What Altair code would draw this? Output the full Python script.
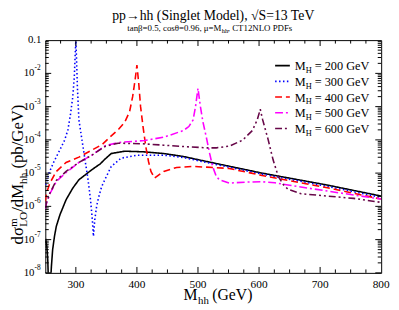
import altair as alt
import pandas as pd

SERIF = "Liberation Serif"

# ---- data (M_hh in GeV, log10 of dsigma/dM_hh in pb/GeV) ----
M200 = [250, 251, 252.5, 254, 255.5, 257, 258.5, 260, 262, 265, 268, 274, 284, 295, 305, 326, 340,
        347.6, 358, 380, 412, 444, 476, 514, 605, 712, 800]
L200 = [-7.1, -7.05, -7.2, -7.6, -8.5, -9.0, -8.3, -7.8, -7.3, -6.9, -6.6, -6.25, -5.8, -5.45, -5.2,
        -4.9, -4.72, -4.58, -4.41, -4.34, -4.36, -4.41, -4.5, -4.65, -5.0, -5.36, -5.69]

M300 = [250, 252, 256, 263, 273.6, 281.6, 287, 291.3, 295, 297.5, 299, 300, 301, 302.5, 305, 310, 315,
        320, 324, 327, 328.8, 331, 334, 337, 342, 347.6, 358, 374, 401, 444, 476, 514, 605, 712, 800]
L300 = [-5.35, -5.29, -5.0, -4.7, -4.31, -4.01, -3.7, -3.22, -2.7, -2.1, -1.4, -1.03, -1.5, -2.4, -3.4,
        -4.0, -4.6, -5.2, -5.8, -6.4, -6.9, -6.4, -6.0, -5.75, -5.42, -5.19, -4.8, -4.55, -4.46, -4.46,
        -4.53, -4.68, -5.03, -5.4, -5.73]

M400 = [250, 252, 257.5, 268, 284, 305, 327, 343, 358, 370, 380, 388, 393, 397, 400, 403, 406, 410,
        414.5, 419, 423, 429, 436, 444, 465, 492, 514, 551, 605, 712, 800]
L400 = [-5.85, -5.6, -5.3, -4.95, -4.68, -4.52, -4.3, -4.14, -3.88, -3.68, -3.47, -3.15, -2.7, -2.2,
        -1.75, -2.3, -3.0, -3.6, -4.2, -4.65, -4.95, -5.15, -5.05, -4.95, -4.83, -4.8, -4.82, -4.86,
        -5.07, -5.44, -5.78]

M500 = [250, 252, 257.5, 268, 284, 305, 327, 347.6, 369, 412, 444, 476, 485, 492, 496, 500, 504, 508,
        514, 519, 524, 530, 535, 551, 578, 605, 626, 642, 712, 800]
L500 = [-6.08, -5.9, -5.62, -5.25, -4.98, -4.68, -4.45, -4.18, -4.08, -4.02, -3.92, -3.72, -3.6, -3.4,
        -3.0, -2.45, -3.0, -3.45, -3.95, -4.4, -4.8, -5.1, -5.2, -5.3, -5.27, -5.26, -5.29, -5.34,
        -5.54, -5.78]

M600 = [250, 252, 257.5, 268, 284, 305, 327, 347.6, 369, 412, 444, 476, 514, 530, 551, 573, 589, 597,
        602, 606, 615, 623, 631.5, 640, 647.6, 669, 712, 755, 800]
L600 = [-6.05, -5.88, -5.6, -5.22, -4.95, -4.68, -4.45, -4.2, -4.1, -4.12, -4.16, -4.2, -4.24, -4.24,
        -4.19, -4.01, -3.72, -3.4, -3.08, -3.4, -4.0, -4.6, -5.1, -5.35, -5.49, -5.62, -5.69, -5.76,
        -5.88]

SERIES = ["200", "300", "400", "500", "600"]
COLORS = ["#000000", "#0000ff", "#ff0000", "#ff00ff", "#670748"]
DASHES = [[1, 0], [1.5, 2.5], [7, 4], [8, 3, 2, 3], [7, 3, 2, 3, 2, 3]]

X_LABELS = [300, 400, 500, 600, 700, 800]
Y_EXPONENTS = [-8, -7, -6, -5, -4, -3, -2]

W, H = 342, 237

frames = []
for s, ms, ls in zip(SERIES, [M200, M300, M400, M500, M600], [L200, L300, L400, L500, L600]):
    frames.append(pd.DataFrame({"M": ms, "lg": ls, "s": s}))
df = pd.concat(frames, ignore_index=True)
df["v"] = 10.0 ** df["lg"]

xscale = alt.Scale(domain=[250, 800], nice=False, zero=False)
yscale = alt.Scale(type="log", domain=[1e-8, 0.1], nice=False)

lines = alt.Chart(df).mark_line(clip=True, strokeWidth=1.6).encode(
    x=alt.X("M:Q", scale=xscale, axis=None),
    y=alt.Y("v:Q", scale=yscale, axis=None),
    color=alt.Color("s:N", scale=alt.Scale(domain=SERIES, range=COLORS), legend=None),
    strokeDash=alt.StrokeDash("s:N", scale=alt.Scale(domain=SERIES, range=DASHES), legend=None),
    detail="s:N",
)

# ---- inward ticks ----
xmaj = pd.DataFrame({"M": [300, 400, 500, 600, 700]})
xmin = pd.DataFrame({"M": [m for m in range(275, 800, 25) if m % 100 != 0]})
ymaj = pd.DataFrame({"v": [10.0 ** e for e in Y_EXPONENTS]})
ymin = pd.DataFrame({"v": [k * 10.0 ** e for e in Y_EXPONENTS for k in range(2, 10)]})


def xticks(data, length):
    out = []
    for y0, y1 in [(H, H - length), (0, length)]:
        out.append(alt.Chart(data).mark_rule(color="black", strokeWidth=1).encode(
            x=alt.X("M:Q", scale=xscale, axis=None), y=alt.value(y0), y2=alt.value(y1)))
    return out


def yticks(data, length):
    out = []
    for x0, x1 in [(0, length), (W, W - length)]:
        out.append(alt.Chart(data).mark_rule(color="black", strokeWidth=1).encode(
            y=alt.Y("v:Q", scale=yscale, axis=None), x=alt.value(x0), x2=alt.value(x1)))
    return out


tick_layers = xticks(xmaj, 6) + xticks(xmin, 3.5) + yticks(ymaj, 6) + yticks(ymin, 3.5)

# ---- x tick labels ----
xlab = alt.Chart(pd.DataFrame({"M": X_LABELS, "t": [str(v) for v in X_LABELS]})).mark_text(
    font=SERIF, fontSize=11.5, align="center", baseline="top", color="black").encode(
    x=alt.X("M:Q", scale=xscale, axis=None), y=alt.value(H + 6), text="t:N")

# ---- y tick labels ----
ylab = pd.DataFrame({"v": [10.0 ** e for e in Y_EXPONENTS], "e": [str(e) for e in Y_EXPONENTS]})
ybase = alt.Chart(ylab).mark_text(text="10", font=SERIF, fontSize=11, align="right",
                                  baseline="middle", color="black").encode(
    y=alt.Y("v:Q", scale=yscale, axis=None), x=alt.value(-11))
yexp = alt.Chart(ylab).mark_text(font=SERIF, fontSize=7.5, align="left", baseline="middle",
                                 dy=-5, color="black").encode(
    y=alt.Y("v:Q", scale=yscale, axis=None), x=alt.value(-11), text="e:N")
ytop = alt.Chart(pd.DataFrame({"v": [0.1]})).mark_text(
    text="0.1", font=SERIF, fontSize=11, align="right", baseline="middle", color="black").encode(
    y=alt.Y("v:Q", scale=yscale, axis=None), x=alt.value(-4))

one = pd.DataFrame({"k": [0]})


def label(text, x, y, size, angle=0, align="left", baseline="alphabetic", color="black"):
    kw = dict(text=text, font=SERIF, fontSize=size, align=align, baseline=baseline, color=color)
    if angle:
        kw["angle"] = angle
    return alt.Chart(one).mark_text(**kw).encode(x=alt.value(x), y=alt.value(y))


texts = [
    # title
    label("pp\u2192hh (Singlet Model), \u221aS=13 TeV", W / 2, -21, 14, align="center"),
    # subtitle
    label("tan\u03b2=0.5, cos\u03b8=0.96, \u03bc=M", 179.3, -9.5, 9, align="right"),
    label("hh", 179.6, -7.5, 6.5),
    label(", CT12NLO PDFs", 185.8, -9.5, 9),
    # x title
    label("M", 155, H + 28, 16, align="right"),
    label("hh", 155.5, H + 32, 11),
    label("(GeV)", 170, H + 28, 16),
    # y title (rotated, reading upward)
    label("d\u03c3", -23, 208, 17, angle=270),
    label("m", -29, 190.1, 11, angle=270),
    label("LO", -19, 190.1, 11.5, angle=270),
    label("/dM", -23, 174.8, 17, angle=270),
    label("hh", -19, 146.5, 11.5, angle=270),
    label("(pb/GeV)", -23, 130.75, 17, angle=270),
]

# ---- legend ----
legend_layers = []
for i, (s, c, d) in enumerate(zip(SERIES, COLORS, DASHES)):
    yy = 26 + 16 * i
    legend_layers.append(alt.Chart(one).mark_rule(color=c, strokeWidth=1.6, strokeDash=d).encode(
        x=alt.value(234), x2=alt.value(249), y=alt.value(yy)))
    legend_layers.append(label("M", 254, yy + 4.5, 12.5))
    legend_layers.append(label("H", 265.1, yy + 7.5, 8.5))
    legend_layers.append(label(f"= {s} GeV", 274.3, yy + 4.5, 12.5))

chart = alt.layer(lines, *tick_layers, xlab, ybase, yexp, ytop, *texts, *legend_layers).properties(
    width=W, height=H,
    autosize=alt.AutoSizeParams(type="none"),
    padding={"left": 38, "top": 30, "right": 10, "bottom": 30},
).configure_view(stroke="black", strokeWidth=1)

chart.save("out.html", embed_options={"renderer": "svg", "actions": False})
